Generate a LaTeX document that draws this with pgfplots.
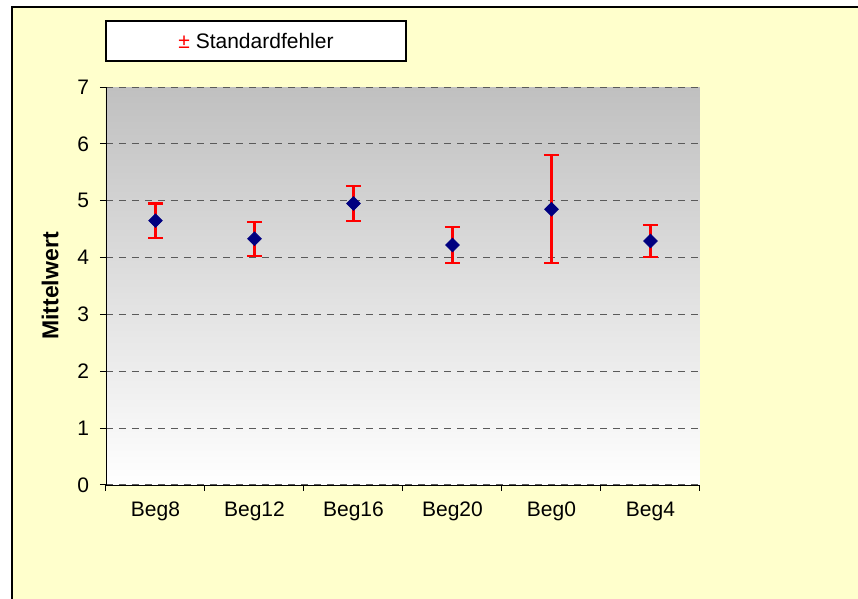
\documentclass[border=0pt]{standalone}
\usepackage{pgfplots}
\pgfplotsset{compat=1.18}
\usepackage{fontspec}
\setmainfont{Liberation Sans}
\definecolor{bgyellow}{RGB}{255,255,204}
\definecolor{plotgray}{RGB}{192,192,192}
\definecolor{gridgray}{RGB}{90,90,90}
\definecolor{marknavy}{RGB}{0,0,128}
\begin{document}
\begin{tikzpicture}
% Hintergrund (1px = 0.5pt)
\path[use as bounding box] (0,0) rectangle (429pt,299.5pt);
\fill[white] (0,0) rectangle (429pt,299.5pt);
\fill[bgyellow] (6pt,0) rectangle (429pt,296pt);
\draw[line width=0.6pt] (6pt,0) -- (6pt,296pt) -- (429pt,296pt);
\begin{axis}[
    at={(53pt,57pt)}, anchor=south west,
    scale only axis,
    width=297pt, height=199pt,
    xmin=-0.5, xmax=5.5,
    ymin=0, ymax=7,
    axis lines*=left,
    axis line style={black, -},
    axis background/.style={top color=plotgray, bottom color=white},
    tick align=outside,
    major tick length=3pt,
    tick style={black, line width=0.5pt},
    xtick={-0.5,0.5,...,5.5},
    xticklabels={},
    extra x ticks={0,1,2,3,4,5},
    extra x tick labels={Beg8,Beg12,Beg16,Beg20,Beg0,Beg4},
    extra x tick style={major tick length=0pt, grid=none},
    ytick={0,1,...,7},
    ymajorgrids,
    grid style={gridgray, line width=0.5pt, dash pattern=on 3.5pt off 3pt},
    /pgf/number format/assume math mode=true,
    tick label style={font=\fontsize{10.5}{12}\selectfont},
    xticklabel style={yshift=-5pt},
    yticklabel style={xshift=-2pt},
    ylabel={Mittelwert},
    ylabel style={font=\fontsize{11.5}{13}\selectfont\bfseries, at={(axis description cs:-0.094,0.5)}, anchor=center},
]
\addplot[
    only marks,
    mark=square*,
    mark size=2.4pt,
    mark options={rotate=45, fill=marknavy, draw=marknavy},
    error bars/.cd,
        y dir=both, y explicit,
        error bar style={red, line width=1.1pt},
        error mark options={red, rotate=90, mark size=3.75pt, line width=1.1pt},
] table[x=x, y=y, y error=e] {
x y e
0 4.65 0.30
1 4.33 0.30
2 4.95 0.31
3 4.22 0.32
4 4.85 0.95
5 4.29 0.28
};
\end{axis}
% Legende
\node[draw=black, line width=1pt, fill=white, minimum width=150pt, minimum height=20pt,
      inner sep=0pt, font=\fontsize{10.5}{12}\selectfont] at (128pt,279pt)
      {\textcolor{red}{±} Standardfehler};
\end{tikzpicture}
\end{document}
